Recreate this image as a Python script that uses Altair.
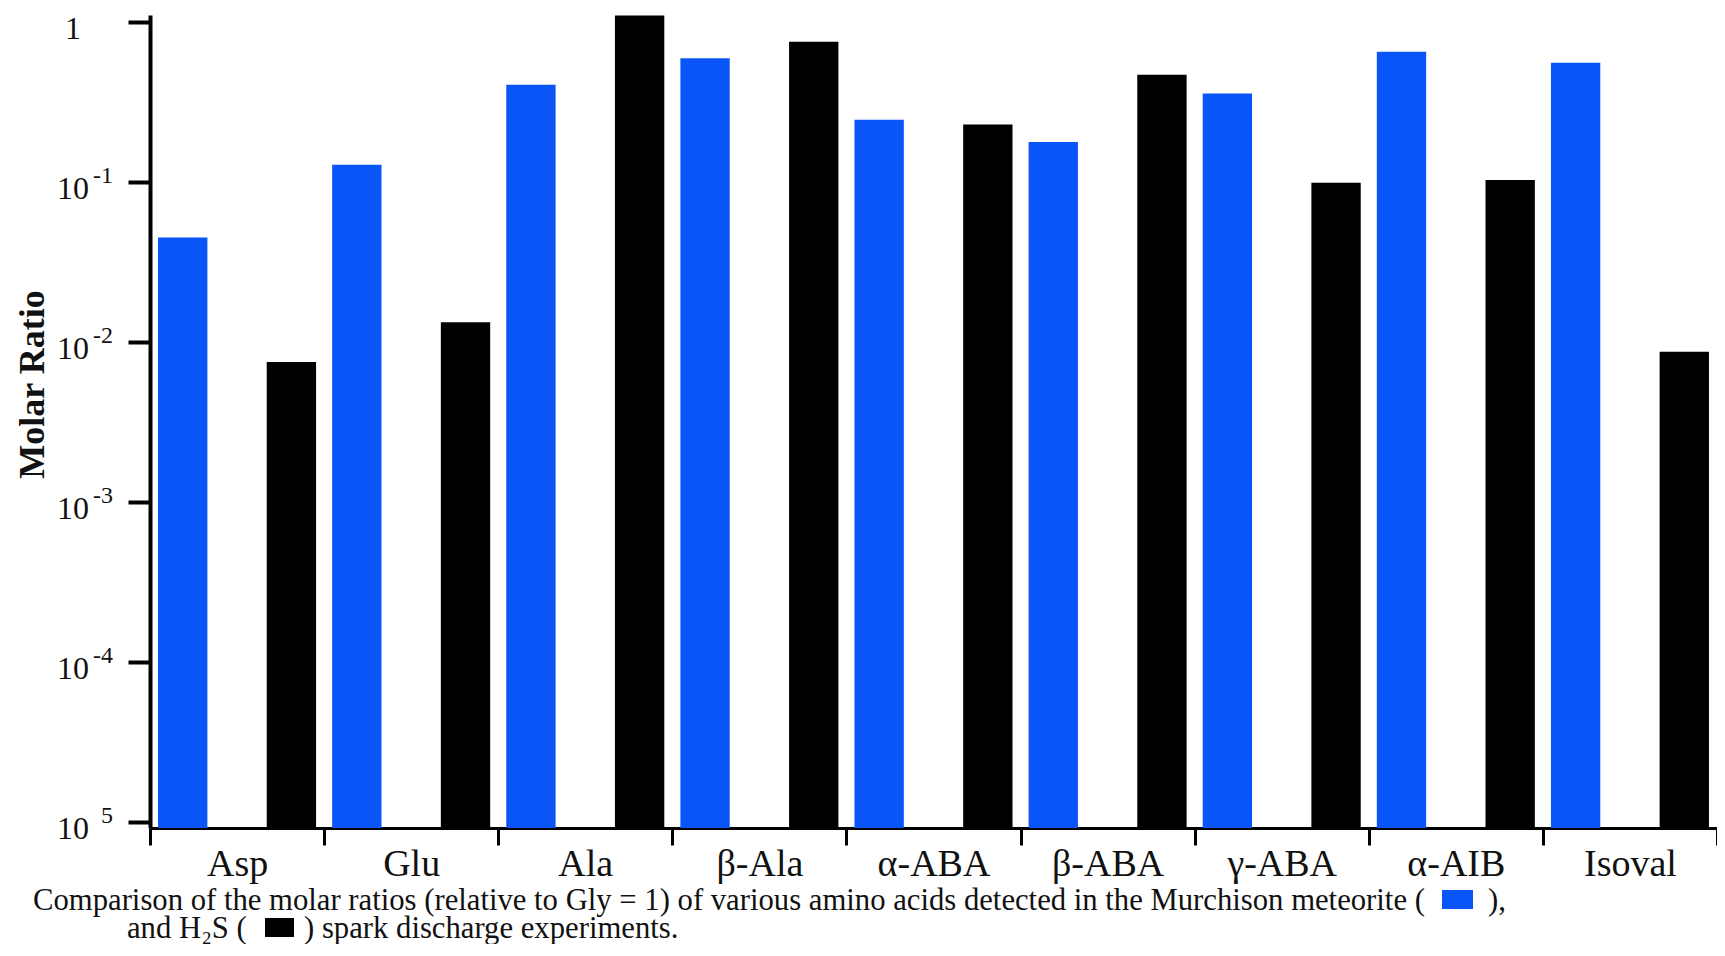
import altair as alt
import pandas as pd

# ---- data ----
amino_acids = ["Asp", "Glu", "Ala", "β-Ala", "α-ABA", "β-ABA", "γ-ABA", "α-AIB", "Isoval"]
murchison = [0.045, 0.128, 0.406, 0.593, 0.245, 0.178, 0.357, 0.652, 0.557]
h2s_spark = [0.0075, 0.0133, 1.1, 0.752, 0.229, 0.468, 0.099, 0.103, 0.0087]
series_names = ["Murchison", "H2S"]
series_colors = ["#0A55F7", "#000000"]
y_tick_values = [1e-5, 1e-4, 1e-3, 1e-2, 1e-1, 1]
y_tick_base = ["10", "10", "10", "10", "10", "1"]
y_tick_exp = ["5", "-4", "-3", "-2", "-1", ""]
caption_line1 = "Comparison of the molar ratios (relative to Gly = 1) of various amino acids detected in the Murchison meteorite ("
caption_line1_end = "),"
caption_line2 = "and H₂S ("
caption_line2_end = ") spark discharge experiments."

Y_DOMAIN = [9.17e-6, 1.106]

rows = []
for i, a in enumerate(amino_acids):
    rows.append({"acid": a, "series": series_names[0], "ratio": murchison[i], "base": Y_DOMAIN[0]})
    rows.append({"acid": a, "series": series_names[1], "ratio": h2s_spark[i], "base": Y_DOMAIN[0]})
df = pd.DataFrame(rows)

ticks_df = pd.DataFrame({"v": y_tick_values, "b": y_tick_base, "e": y_tick_exp})

FONT = "Liberation Serif"
TXT = "#111111"

yscale = alt.Scale(type="log", domain=Y_DOMAIN)
y_axis = alt.Axis(
    title="Molar Ratio", titleFont=FONT, titleFontSize=36,
    titleFontWeight="bold", titleColor=TXT, titleAngle=270,
    titleX=-107, titleY=369, titleAlign="center", titleBaseline="alphabetic",
    values=y_tick_values, labels=False,
    tickSize=22, tickWidth=4, tickColor="black",
    domainColor="black", domainWidth=4, grid=False,
)

bars = alt.Chart(df).mark_bar().encode(
    x=alt.X(
        "acid:N",
        sort=amino_acids,
        scale=alt.Scale(paddingInner=0, paddingOuter=0, round=False),
        axis=alt.Axis(
            title=None, labelAngle=0, labelFont=FONT, labelFontSize=38,
            labelColor=TXT, labelPadding=0, tickBand="extent", tickSize=17,
            tickWidth=3, tickColor="black", domainColor="black", domainWidth=3,
            grid=False,
        ),
    ),
    xOffset=alt.XOffset(
        "series:N", sort=series_names,
        scale=alt.Scale(domain=series_names, paddingInner=0.546, paddingOuter=0.074, round=False),
    ),
    y=alt.Y("ratio:Q", scale=yscale, axis=y_axis),
    y2="base:Q",
    color=alt.Color("series:N", scale=alt.Scale(domain=series_names, range=series_colors), legend=None),
)

# y tick labels: base and superscript exponent, positioned on the y scale
tick_base = alt.Chart(ticks_df).mark_text(
    font=FONT, fontSize=32, align="center", baseline="alphabetic", color=TXT, dy=17
).encode(
    y=alt.Y("v:Q", scale=yscale, axis=y_axis),
    x=alt.value(-77),
    text="b:N",
)
tick_exp = alt.Chart(ticks_df).mark_text(
    font=FONT, fontSize=24, align="right", baseline="alphabetic", color=TXT, dy=1
).encode(
    y=alt.Y("v:Q", scale=yscale, axis=y_axis),
    x=alt.value(-37),
    text="e:N",
)


def caption_text(t, x, y, size=30.7):
    return alt.Chart(pd.DataFrame({"t": [t]})).mark_text(
        font=FONT, fontSize=size, align="left", baseline="alphabetic", color=TXT
    ).encode(text="t:N", x=alt.value(x), y=alt.value(y))


def swatch(color, x, x2, y, y2):
    return alt.Chart(pd.DataFrame({"s": [color]})).mark_rect(color=color).encode(
        x=alt.value(x), x2=alt.value(x2), y=alt.value(y), y2=alt.value(y2)
    )


layers = [
    bars,
    tick_base,
    tick_exp,
    caption_text(caption_line1, -117, 895),
    swatch(series_colors[0], 1292, 1323, 875, 894),
    caption_text(caption_line1_end, 1338, 895),
    caption_text(caption_line2, -23, 923),
    swatch(series_colors[1], 115, 144, 903, 922),
    caption_text(caption_line2_end, 154, 923),
]

chart = alt.layer(*layers).properties(
    width=1567,
    height=813,
    autosize=alt.AutoSizeParams(type="none"),
    padding={"left": 142, "top": 7, "right": 0, "bottom": 116},
    background="white",
).configure_view(stroke=None)

chart.save("out.html", embed_options={"renderer": "svg", "actions": False})
